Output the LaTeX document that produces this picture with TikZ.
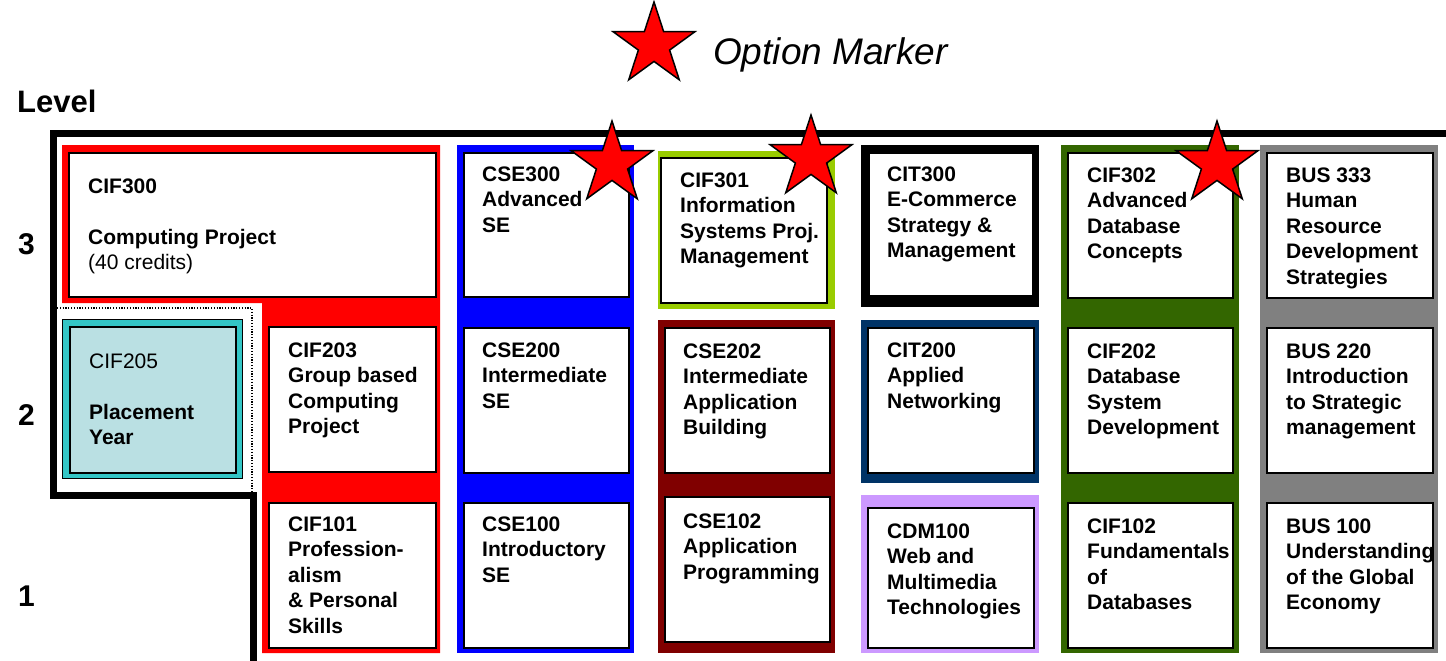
\documentclass[tikz,border=0pt]{standalone}
\usepackage{fontspec}
\setmainfont{Liberation Sans}
\usetikzlibrary{shapes.geometric}
\definecolor{cRed}{HTML}{FF0000}
\definecolor{cBlue}{HTML}{0000FF}
\definecolor{cLime}{HTML}{99CC00}
\definecolor{cMaroon}{HTML}{800000}
\definecolor{cNavy}{HTML}{003366}
\definecolor{cLav}{HTML}{CC99FF}
\definecolor{cGreen}{HTML}{336600}
\definecolor{cGray}{HTML}{808080}
\definecolor{cTeal}{HTML}{33C6C6}
\definecolor{cPale}{HTML}{BAE0E3}
\newcommand{\coursebox}[8]{%
  \node[whitebox,anchor=north west,minimum width={(#4-#2)*1pt},minimum height={(#5-#3)*1pt}] (#1) at (#2,#3) {};
  \node[txt,anchor=base west] (#1t) at (#6,#7) {\parbox[t]{300pt}{\raggedright #8}};}
\begin{document}
\begin{tikzpicture}[x=1pt,y=-1pt,
  whitebox/.style={draw=black,line width=1.8pt,fill=white,inner sep=0pt,rectangle},
  txt/.style={inner sep=0pt,font=\fontsize{21}{25.5}\selectfont\bfseries},
  bigtxt/.style={inner sep=0pt,font=\fontsize{31}{36}\selectfont\bfseries},
  numtxt/.style={inner sep=0pt,font=\fontsize{30}{34}\selectfont\bfseries},
  optstar/.style={star,star points=5,star point ratio=2.618,draw=black,line width=1.5pt,fill=cRed,minimum size=86pt,inner sep=0pt},
  frameline/.style={line width=6.5pt,black,line cap=rect,line join=miter}]
\useasboundingbox (0,0) rectangle (1446,661);
\fill[white] (0,0) rectangle (1446,661);

% legend
\node[optstar] (legstar) at (654,45) {};
\node[inner sep=0pt,anchor=base west,font=\fontsize{37}{40}\selectfont\itshape] (legtext) at (713,64) {Option Marker};

% level labels
\node[bigtxt,anchor=base west] (level) at (17,112) {Level};
\node[numtxt,anchor=base west] (l3) at (18,254) {3};
\node[numtxt,anchor=base west] (l2) at (18,425) {2};
\node[numtxt,anchor=base west] (l1) at (18,606) {1};

% column backgrounds
\fill[cRed] (62,145) -- (440,145) -- (440,653) -- (262,653) -- (262,303) -- (62,303) -- cycle;
\fill[cBlue] (457,145) rectangle (634,653);
\fill[cLime] (658,151) rectangle (835,309);
\fill[cMaroon] (658,320) rectangle (835,653);
\fill[black] (861,145) rectangle (1039,307);
\fill[cNavy] (861,320) rectangle (1039,483);
\fill[cLav] (861,495) rectangle (1039,653);
\fill[cGreen] (1061,145) rectangle (1239,653);
\fill[cGray] (1260,145) rectangle (1438,653);

% placement year
\draw[line width=1.2pt,dash pattern=on 1.2pt off 1.6pt] (57,308) -- (252,308) -- (252,493);
\node[draw=black,line width=1pt,fill=cTeal,anchor=north west,minimum width=180pt,minimum height=159pt,inner sep=0pt] (cif205o) at (62,319) {};
\node[draw=black,line width=1.5pt,fill=cPale,anchor=north west,minimum width=166pt,minimum height=146pt,inner sep=0pt] (cif205) at (69,326) {};
\node[txt,anchor=base west] (cif205t) at (89,368) {\parbox[t]{300pt}{\raggedright\mdseries CIF205\\[25.5pt]\bfseries Placement\\Year}};

% courses
\coursebox{cif300}{68}{152}{435}{296}{88}{193}{CIF300\\[25.5pt]Computing Project\\{\mdseries (40 credits)}}
\coursebox{cif203}{268}{326}{435}{471}{288}{357}{CIF203\\Group based\\Computing\\Project}
\coursebox{cif101}{268}{502}{435}{647}{288}{531}{CIF101\\Profession-\\alism\\\& Personal\\Skills}
\coursebox{cse300}{463}{152}{628}{296}{482}{181}{CSE300\\Advanced\\SE}
\coursebox{cse200}{463}{327}{628}{472}{482}{357}{CSE200\\Intermediate\\SE}
\coursebox{cse100}{463}{502}{628}{647}{482}{531}{CSE100\\Introductory\\SE}
\coursebox{cif301}{660}{157}{826}{302}{680}{187}{CIF301\\Information\\Systems Proj.\\Management}
\coursebox{cse202}{664}{327}{829}{472}{683}{358}{CSE202\\Intermediate\\Application\\Building}
\coursebox{cse102}{664}{496}{829}{641}{683}{528}{CSE102\\Application\\Programming}
\coursebox{cit300}{868}{152}{1032}{295}{887}{181}{CIT300\\E-Commerce\\Strategy \&\\Management}
\coursebox{cit200}{867}{327}{1033}{472}{887}{357}{CIT200\\Applied\\Networking}
\coursebox{cdm100}{867}{507}{1033}{647}{887}{538}{CDM100\\Web and\\Multimedia\\Technologies}
\coursebox{cif302}{1067}{152}{1232}{297}{1087}{182}{CIF302\\Advanced\\Database\\Concepts}
\coursebox{cif202}{1067}{327}{1232}{472}{1087}{358}{CIF202\\Database\\System\\Development}
\coursebox{cif102}{1067}{502}{1232}{647}{1087}{533}{CIF102\\Fundamentals\\of\\Databases}
\coursebox{bus333}{1266}{152}{1432}{297}{1286}{182}{BUS 333\\Human\\Resource\\Development\\Strategies}
\coursebox{bus220}{1266}{327}{1432}{472}{1286}{358}{BUS 220\\Introduction\\to Strategic\\management}
\coursebox{bus100}{1266}{502}{1432}{647}{1286}{533}{BUS 100\\Understanding\\of the Global\\Economy}

% level 3 frame
\coordinate (fr1) at (1450,133.5);
\coordinate (fr2) at (53.5,133.5);
\coordinate (fr3) at (53.5,495.5);
\coordinate (fr4) at (253.5,495.5);
\coordinate (fr5) at (253.5,665);
\draw[frameline] (fr1) -- (fr2) -- (fr3) -- (fr4) -- (fr5);

% option stars
\node[optstar] (star1) at (612,164) {};
\node[optstar] (star2) at (811,158) {};
\node[optstar] (star3) at (1217,164) {};
\end{tikzpicture}
\end{document}
